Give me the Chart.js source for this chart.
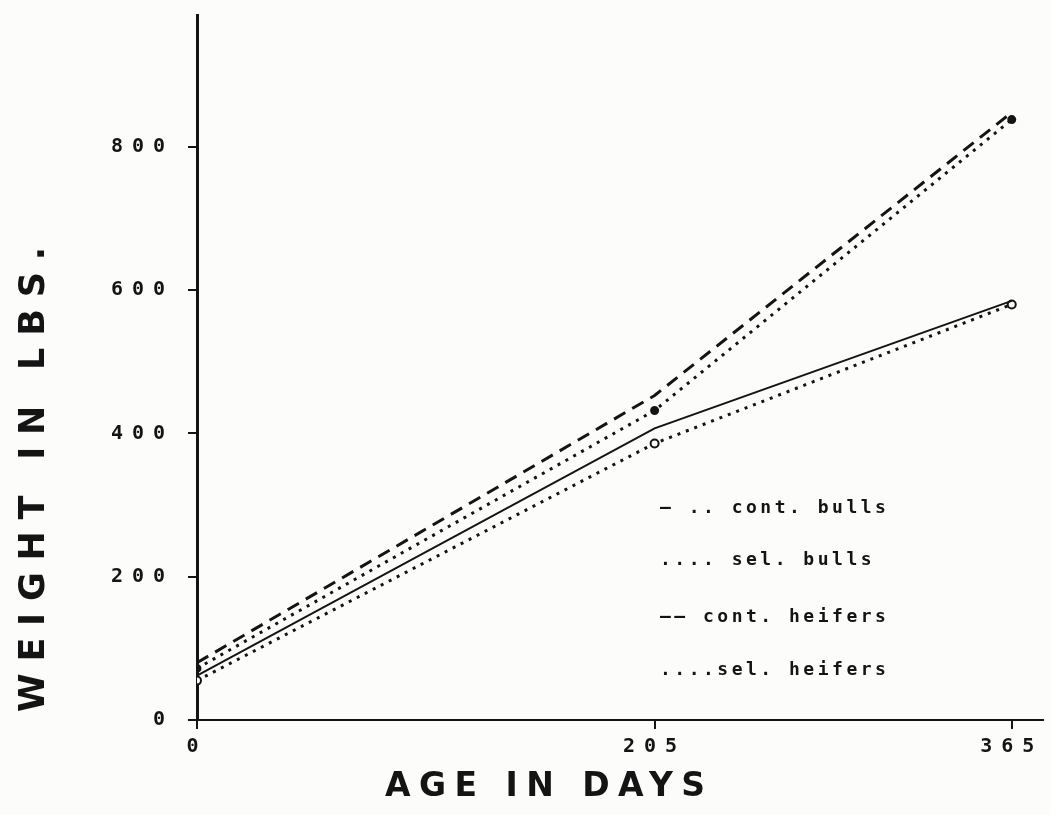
<!DOCTYPE html>
<html>
<head>
<meta charset="utf-8">
<script src="https://cdn.jsdelivr.net/npm/chart.js@4.4.1/dist/chart.umd.min.js"></script>
<style>
  html, body { margin: 0; padding: 0; background: #fcfcfb; }
  #wrap { width: 1050px; height: 815px; }
</style>
</head>
<body>
<div id="wrap"><canvas id="weightChart" width="1050" height="815"></canvas></div>
<script>
// Datos
const days = [0, 205, 365];
const contBulls = [80, 453, 848];
const selBulls = [72, 432, 838];
const contHeifers = [62, 407, 585];
const selHeifers = [55, 386, 580];

const xTicks = [0, 205, 365];
const yTicks = [0, 200, 400, 600, 800];

const seriesLabels = ['cont. bulls', 'sel. bulls', 'cont. heifers', 'sel. heifers'];
const legendPrefixes = ['\u2013 .. ', '.... ', '\u2014\u2013 ', '....'];

const INK = '#141414';

function toPoints(values) {
  return days.map((d, i) => ({ x: d, y: values[i] }));
}

// texto con espaciado para ocupar un ancho dado
function spacedText(ctx, text, x, y, width) {
  ctx.letterSpacing = '0px';
  const w = ctx.measureText(text).width;
  const gap = Math.max(0, (width - w) / (text.length - 1));
  ctx.letterSpacing = gap + 'px';
  ctx.fillText(text, x, y);
  ctx.letterSpacing = '0px';
}

const paperAndText = {
  id: 'paperAndText',
  beforeDraw(chart) {
    const ctx = chart.ctx;
    ctx.save();
    ctx.fillStyle = '#fcfcfb';
    ctx.fillRect(0, 0, chart.width, chart.height);
    ctx.restore();
    ctx.letterSpacing = '9px';
  },
  afterDraw(chart) {
    const ctx = chart.ctx;
    ctx.save();
    ctx.fillStyle = INK;
    ctx.textBaseline = 'middle';

    // titulo eje y
    ctx.save();
    ctx.translate(35, 480);
    ctx.rotate(-Math.PI / 2);
    ctx.font = 'bold 35px "DejaVu Sans"';
    spacedText(ctx, 'WEIGHT IN LBS.', -232, 0, 465);
    ctx.restore();

    // titulo eje x
    ctx.font = 'bold 33px "DejaVu Sans"';
    spacedText(ctx, 'AGE IN DAYS', 385, 787, 320);

    // leyenda
    ctx.font = 'bold 18px "DejaVu Sans Mono"';
    ctx.letterSpacing = '3.5px';
    const rows = [508, 560, 617, 670];
    seriesLabels.forEach((lab, i) => {
      ctx.fillText(legendPrefixes[i] + lab, 660, rows[i]);
    });
    ctx.restore();
  }
};

new Chart(document.getElementById('weightChart'), {
  type: 'line',
  data: {
    datasets: [
      {
        label: seriesLabels[0],
        data: toPoints(contBulls),
        borderColor: INK,
        borderWidth: 3,
        borderDash: [13, 8],
        pointRadius: 0
      },
      {
        label: seriesLabels[1],
        data: toPoints(selBulls),
        borderColor: INK,
        borderWidth: 3,
        borderDash: [3, 6],
        pointRadius: 3,
        pointBackgroundColor: INK,
        pointBorderColor: INK
      },
      {
        label: seriesLabels[2],
        data: toPoints(contHeifers),
        borderColor: INK,
        borderWidth: 2,
        pointRadius: 0
      },
      {
        label: seriesLabels[3],
        data: toPoints(selHeifers),
        borderColor: INK,
        borderWidth: 3,
        borderDash: [3, 6],
        pointRadius: 4,
        pointBorderWidth: 2,
        pointBackgroundColor: '#fcfcfb',
        pointBorderColor: INK
      }
    ]
  },
  options: {
    responsive: false,
    animation: false,
    layout: { padding: { left: 0, right: 5, top: 15, bottom: 0 } },
    plugins: {
      legend: { display: false },
      tooltip: { enabled: false }
    },
    scales: {
      x: {
        type: 'linear',
        min: 0,
        max: 379,
        afterBuildTicks(scale) {
          scale.ticks = xTicks.map(v => ({ value: v }));
        },
        afterFit(scale) {
          scale.height = 95;
          scale.paddingRight = 0;
        },
        grid: {
          drawOnChartArea: false,
          drawTicks: true,
          tickLength: 9,
          color: INK,
          lineWidth: 2
        },
        border: { display: true, color: INK, width: 2 },
        ticks: {
          color: INK,
          padding: 6,
          maxRotation: 0,
          autoSkip: false,
          font: { family: 'DejaVu Sans Mono', size: 20, weight: 'bold' }
        }
      },
      y: {
        min: 0,
        max: 984,
        afterBuildTicks(scale) {
          scale.ticks = yTicks.map(v => ({ value: v }));
        },
        afterFit(scale) {
          scale.width = 197;
          scale.paddingTop = 0;
          scale.paddingBottom = 0;
        },
        grid: {
          drawOnChartArea: false,
          drawTicks: true,
          tickLength: 9,
          color: INK,
          lineWidth: 2
        },
        border: { display: true, color: INK, width: 3 },
        ticks: {
          color: INK,
          padding: 14,
          autoSkip: false,
          font: { family: 'DejaVu Sans Mono', size: 20, weight: 'bold' }
        }
      }
    }
  },
  plugins: [paperAndText]
});
</script>
</body>
</html>
